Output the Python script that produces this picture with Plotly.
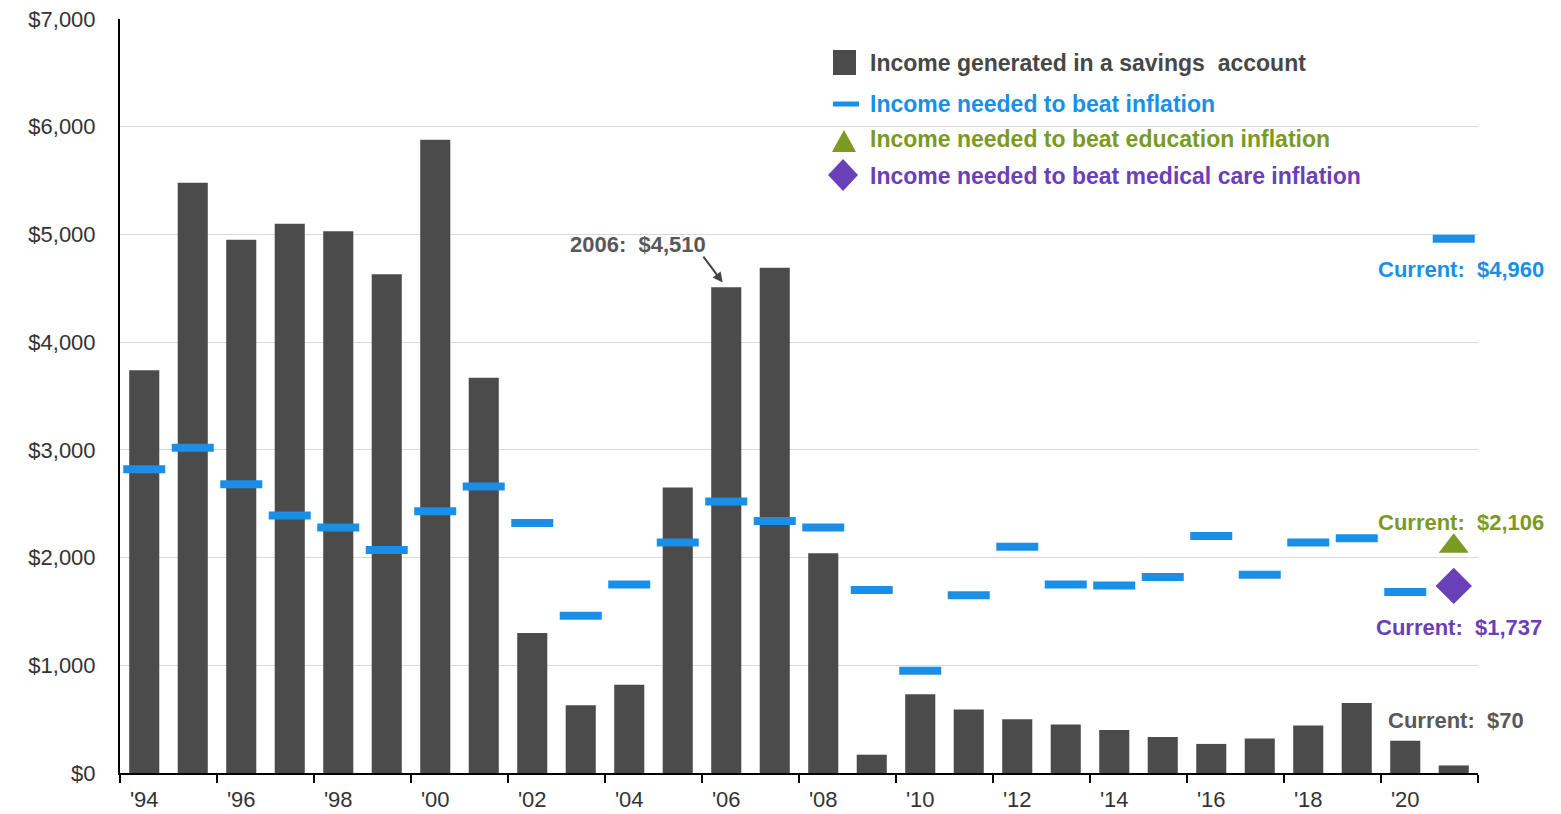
import plotly.graph_objects as go

# Years covered by the chart
years = list(range(1994, 2022))

# Annual income generated in a savings account ($)
savings_income = [3740, 5480, 4950, 5100, 5030, 4630, 5880, 3670, 1300, 630,
                  820, 2650, 4510, 4690, 2040, 170, 730, 590, 500, 450,
                  400, 335, 270, 320, 440, 650, 300, 70]

# Income needed to beat inflation ($)
inflation_income = [2820, 3020, 2680, 2390, 2280, 2070, 2430, 2660, 2320, 1460,
                    1750, 2140, 2520, 2340, 2280, 1700, 950, 1650, 2100, 1750,
                    1740, 1820, 2200, 1840, 2140, 2180, 1680, 4960]

# Current values for education and medical care inflation
current_year = [2021]
education_income = [2106]
medical_income = [1737]

# Axis tick labels
label_years = list(range(1994, 2021, 2))
tick_labels = ["'94", "'96", "'98", "'00", "'02", "'04", "'06", "'08",
               "'10", "'12", "'14", "'16", "'18", "'20"]
tick_edges = [y - 0.5 for y in range(1994, 2023, 2)]
y_ticks = list(range(0, 7001, 1000))
y_tick_labels = ["$0", "$1,000", "$2,000", "$3,000", "$4,000", "$5,000",
                 "$6,000", "$7,000"]

# Legend entries
legend_labels = ["Income generated in a savings  account",
                 "Income needed to beat inflation",
                 "Income needed to beat education inflation",
                 "Income needed to beat medical care inflation"]

BAR = "#4b4b4b"
BLUE = "#1a8fe8"
GREEN = "#7a9a22"
PURPLE = "#6a40b8"
GRAY_TXT = "#585858"
FONT = "Liberation Sans, Arial, sans-serif"

W, H = 1561, 814
ML, MR, MT, MB = 120, 83, 19, 41
PW, PH = W - ML - MR, H - MT - MB


def px(x):
    """Pixel column -> paper x."""
    return (x - ML) / PW


def py(y):
    """Pixel row -> paper y."""
    return (H - MB - y) / PH


def bold(text, color):
    return f"<b><span style='color:{color}'>{text}</span></b>"


fig = go.Figure()

fig.add_trace(go.Bar(
    x=years, y=savings_income, width=0.62,
    marker=dict(color=BAR, line=dict(width=0)),
    name=legend_labels[0], showlegend=False,
))
fig.add_trace(go.Scatter(
    x=years, y=inflation_income, mode="markers",
    marker=dict(symbol="line-ew", size=30, color=BLUE,
                line=dict(color=BLUE, width=8)),
    name=legend_labels[1], showlegend=False,
))
fig.add_trace(go.Scatter(
    x=current_year, y=education_income, mode="markers",
    marker=dict(symbol="triangle-up", size=26, color=GREEN),
    name=legend_labels[2], showlegend=False,
))
fig.add_trace(go.Scatter(
    x=current_year, y=medical_income, mode="markers",
    marker=dict(symbol="diamond", size=28, color=PURPLE),
    name=legend_labels[3], showlegend=False,
))

# Legend drawn as shapes + text
legend_rows = [63, 104, 139, 176]
legend_colors = ["#474747", BLUE, GREEN, PURPLE]
shapes = [
    dict(type="rect", xref="paper", yref="paper",
         x0=px(833), x1=px(856), y0=py(75), y1=py(50),
         fillcolor=BAR, line=dict(width=0)),
    dict(type="line", xref="paper", yref="paper",
         x0=px(833), x1=px(859), y0=py(104), y1=py(104),
         line=dict(color=BLUE, width=5)),
    dict(type="path", xref="paper", yref="paper",
         path=f"M {px(832)},{py(152)} L {px(856)},{py(152)} "
              f"L {px(844)},{py(130)} Z",
         fillcolor=GREEN, line=dict(width=0)),
    dict(type="path", xref="paper", yref="paper",
         path=f"M {px(828)},{py(175)} L {px(843)},{py(159)} "
              f"L {px(858)},{py(175)} L {px(843)},{py(191)} Z",
         fillcolor=PURPLE, line=dict(width=0)),
]
for label, row, color in zip(legend_labels, legend_rows, legend_colors):
    fig.add_annotation(x=px(868), y=py(row), xref="paper", yref="paper",
                       text=bold(label, color), showarrow=False,
                       xanchor="left", yanchor="middle",
                       font=dict(size=23, color=color))

# 2006 callout with arrow
fig.add_annotation(x=2006, y=savings_income[years.index(2006)],
                   text="", showarrow=True, arrowhead=2, arrowsize=1,
                   arrowwidth=2, arrowcolor="#444444", standoff=6,
                   ax=-24, ay=-32)
fig.add_annotation(x=px(708), y=py(244), xref="paper", yref="paper",
                   text=bold("2006:  $4,510", GRAY_TXT), showarrow=False,
                   xanchor="right", yanchor="middle",
                   font=dict(size=22, color=GRAY_TXT))

# Current-value labels
fig.add_annotation(x=px(1546), y=inflation_income[-1], xref="paper", yref="y",
                   text=bold("Current:  $4,960", BLUE), showarrow=False,
                   xanchor="right", yanchor="middle", yshift=-31,
                   font=dict(size=22, color=BLUE))
fig.add_annotation(x=px(1546), y=education_income[0], xref="paper", yref="y",
                   text=bold("Current:  $2,106", GREEN), showarrow=False,
                   xanchor="right", yanchor="middle", yshift=24,
                   font=dict(size=22, color=GREEN))
fig.add_annotation(x=px(1544), y=medical_income[0], xref="paper", yref="y",
                   text=bold("Current:  $1,737", PURPLE), showarrow=False,
                   xanchor="right", yanchor="middle", yshift=-42,
                   font=dict(size=22, color=PURPLE))
fig.add_annotation(x=px(1526), y=savings_income[-1], xref="paper", yref="y",
                   text=bold("Current:  $70", GRAY_TXT), showarrow=False,
                   xanchor="right", yanchor="middle", yshift=45,
                   font=dict(size=22, color=GRAY_TXT))

fig.update_layout(
    width=W, height=H,
    margin=dict(l=ML, r=MR, t=MT, b=MB, autoexpand=False),
    paper_bgcolor="white", plot_bgcolor="white",
    font=dict(family=FONT, size=20, color="#333333"),
    showlegend=False,
    shapes=shapes,
    xaxis=dict(range=[1993.5, 2021.5], tickmode="array", tickvals=tick_edges,
               showticklabels=False, ticks="outside", ticklen=8,
               tickwidth=2, tickcolor="black", showline=True,
               linecolor="black", linewidth=2, showgrid=False,
               zeroline=False, automargin=False),
    xaxis2=dict(range=[1993.5, 2021.5], overlaying="x", anchor="y",
                side="bottom", tickmode="array", tickvals=label_years,
                ticktext=tick_labels, ticks="", showline=False,
                showgrid=False, zeroline=False, ticklabelstandoff=11,
                automargin=False,
                tickfont=dict(size=22, color="#333333")),
    yaxis=dict(range=[0, 7000], tickmode="array", tickvals=y_ticks,
               ticktext=y_tick_labels, showline=True, linecolor="black",
               linewidth=2, gridcolor="#d9d9d9", gridwidth=1,
               zeroline=False, ticks="", ticklabelstandoff=18,
               automargin=False,
               tickfont=dict(size=22, color="#333333")),
)

# Invisible helper so the label axis is rendered
fig.add_trace(go.Scatter(x=[1994], y=[0], xaxis="x2", mode="markers",
                         marker=dict(opacity=0), showlegend=False,
                         hoverinfo="skip"))

fig.write_html("out.html")
